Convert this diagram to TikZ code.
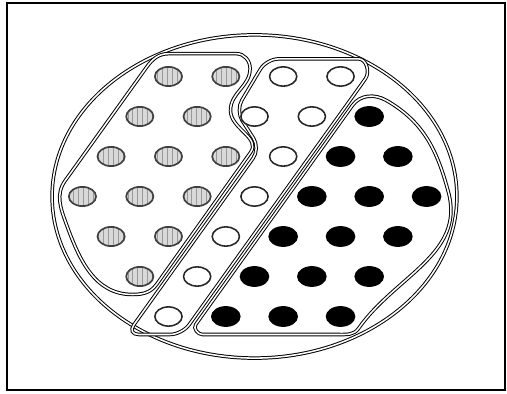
\documentclass[tikz,border=0pt]{standalone}
\usepackage{tikz}
\usetikzlibrary{patterns.meta}

\begin{document}
\begin{tikzpicture}[
  wall/.style={draw=black, double=white, double distance=1.1pt, line width=0.7pt},
  hatchdot/.style={preaction={fill=gray!30}, draw=black!75, line width=1.2pt,
    pattern={Lines[angle=90,distance=3.5pt,line width=0.6pt]}, pattern color=gray!80},
  opendot/.style={draw=black!85, line width=1.1pt, fill=white},
  fulldot/.style={fill=black}
]
  \useasboundingbox (-6.3625,-4.9375) rectangle (6.3125,4.9125);
  % frame
  \draw[line width=1.2pt] (-6.18,-4.84) rectangle (6.27,4.84);
  % vessel
  \draw[wall] (0,0) ellipse (5.06 and 4.04);

  % left zone (hatched)
  \draw[wall] (-4.73,0.4) -- (-2.7,3.23) to[out=54,in=180] (-2.15,3.57)
    -- (-0.45,3.57) to[out=0,in=90] (-0.11,3.2) to[out=-90,in=90] (-0.6,2.15)
    to[out=-90,in=54] (-0.1,1.1) -- (-2.45,-2.2)
    to[out=234,in=0] (-3.05,-2.45) to[out=180,in=-70] (-4.7,-0.7)
    to[out=110,in=234] cycle;
  % middle zone (open)
  \draw[wall, rounded corners=0.3cm] (0.30,3.44) -- (2.3,3.44)
    .. controls (2.8,3.44) and (2.89,3.11) .. (2.60,2.7) -- (-1.81,-3.45)
    -- (-3.19,-3.45) -- (0.14,1.2) -- (-0.47,2.15) -- cycle;
  % right zone (black)
  \draw[wall] (-1.47,-3.2) -- (2.45,2.28)
    to[out=54,in=150] (3.3,2.4) to[out=-30,in=105] (4.85,0.1)
    to[out=-75,in=55] (2.6,-3.3) to[out=235,in=0] (2.1,-3.45)
    -- (-1.3,-3.45) to[out=180,in=234] cycle;

  % dots: column \i, row \r
  \foreach \i/\r in {3/0,5/0,2/1,4/1,1/2,3/2,5/2,0/3,2/3,4/3,1/4,3/4,2/5}
    \draw[hatchdot] ({0.717*(\i-6)},{3-\r}) ellipse (0.34 and 0.24);
  \foreach \i/\r in {7/0,9/0,6/1,8/1,7/2,6/3,5/4,4/5,3/6}
    \draw[opendot] ({0.717*(\i-6)},{3-\r}) ellipse (0.34 and 0.24);
  \foreach \i/\r in {10/1,9/2,11/2,8/3,10/3,12/3,7/4,9/4,11/4,6/5,8/5,10/5,5/6,7/6,9/6}
    \fill[fulldot] ({0.717*(\i-6)},{3-\r}) ellipse (0.37 and 0.26);
\end{tikzpicture}
\end{document}
